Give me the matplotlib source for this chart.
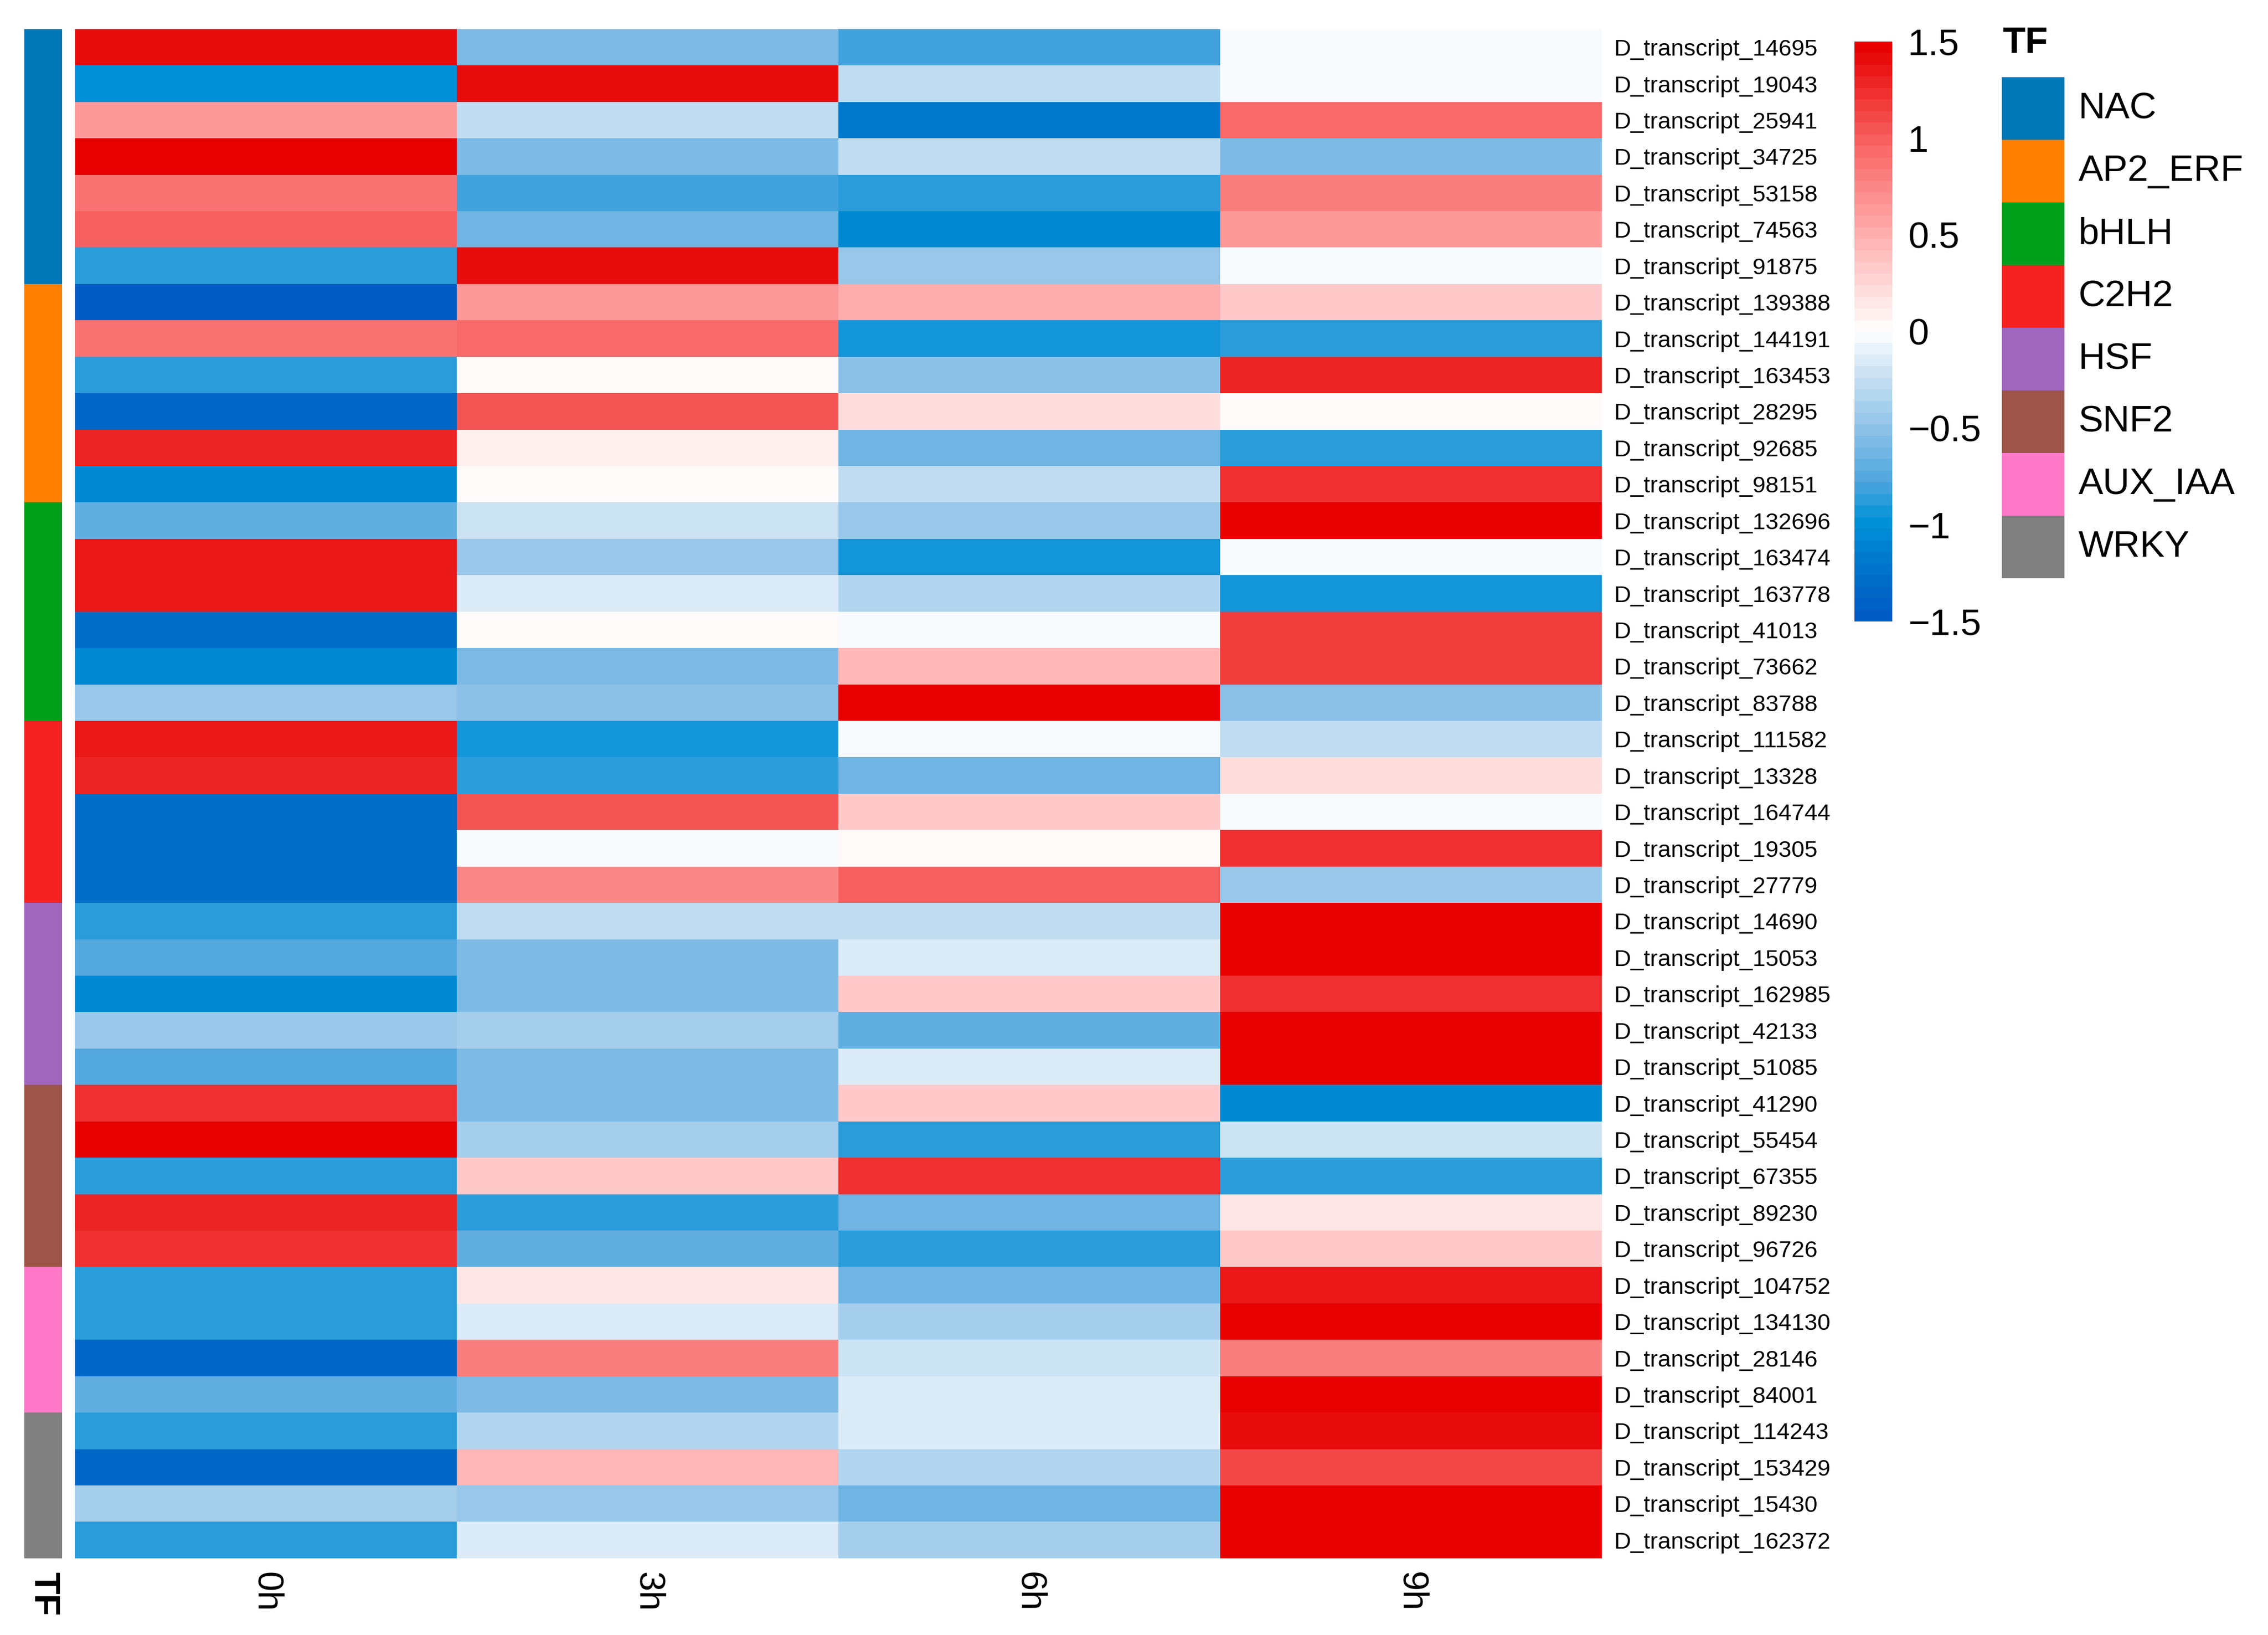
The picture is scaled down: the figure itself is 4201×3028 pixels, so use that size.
import matplotlib

matplotlib.use("Agg")
import matplotlib.pyplot as plt
import numpy as np
from matplotlib.colors import LinearSegmentedColormap, ListedColormap

plt.rcParams["font.family"] = ["Liberation Sans", "DejaVu Sans"]

# row labels (top to bottom)
transcripts = [
    "D_transcript_14695", "D_transcript_19043", "D_transcript_25941", "D_transcript_34725",
    "D_transcript_53158", "D_transcript_74563", "D_transcript_91875",
    "D_transcript_139388", "D_transcript_144191", "D_transcript_163453", "D_transcript_28295",
    "D_transcript_92685", "D_transcript_98151",
    "D_transcript_132696", "D_transcript_163474", "D_transcript_163778", "D_transcript_41013",
    "D_transcript_73662", "D_transcript_83788",
    "D_transcript_111582", "D_transcript_13328", "D_transcript_164744", "D_transcript_19305",
    "D_transcript_27779",
    "D_transcript_14690", "D_transcript_15053", "D_transcript_162985", "D_transcript_42133",
    "D_transcript_51085",
    "D_transcript_41290", "D_transcript_55454", "D_transcript_67355", "D_transcript_89230",
    "D_transcript_96726",
    "D_transcript_104752", "D_transcript_134130", "D_transcript_28146", "D_transcript_84001",
    "D_transcript_114243", "D_transcript_153429", "D_transcript_15430", "D_transcript_162372",
]

time_points = ["0h", "3h", "6h", "9h"]

tf_families = ["NAC", "AP2_ERF", "bHLH", "C2H2", "HSF", "SNF2", "AUX_IAA", "WRKY"]
tf_counts = [7, 6, 6, 5, 5, 5, 4, 4]
tf_colors = ["#0077B6", "#FF7F00", "#00A01C", "#F52222",
             "#A066BE", "#9C5548", "#FF78C8", "#808080"]

# z-scores per time point
v_0h = [1.4, -1.0, 0.6, 1.5, 0.85, 1.0, -0.85,
        -1.45, 0.85, -0.85, -1.35, 1.3, -1.05,
        -0.7, 1.35, 1.35, -1.3, -1.05, -0.45,
        1.35, 1.3, -1.3, -1.3, -1.3,
        -0.85, -0.75, -1.05, -0.45, -0.75,
        1.25, 1.45, -0.85, 1.3, 1.25,
        -0.85, -0.85, -1.35, -0.7,
        -0.85, -1.35, -0.4, -0.85]
v_3h = [-0.55, 1.4, -0.3, -0.55, -0.8, -0.65, 1.4,
        0.65, 0.95, 0.05, 1.05, 0.1, 0.05,
        -0.2, -0.45, -0.15, 0.05, -0.55, -0.5,
        -0.95, -0.9, 1.05, -0.02, 0.75,
        -0.3, -0.6, -0.6, -0.4, -0.6,
        -0.55, -0.4, 0.3, -0.9, -0.7,
        0.15, -0.15, 0.8, -0.55,
        -0.35, 0.45, -0.45, -0.15]
v_6h = [-0.8, -0.25, -1.2, -0.3, -0.9, -1.05, -0.45,
        0.5, -0.95, -0.5, 0.2, -0.65, -0.3,
        -0.45, -0.95, -0.35, -0.05, 0.45, 1.45,
        -0.05, -0.65, 0.35, 0.02, 1.0,
        -0.3, -0.15, 0.35, -0.7, -0.15,
        0.35, -0.85, 1.2, -0.65, -0.9,
        -0.65, -0.4, -0.2, -0.15,
        -0.15, -0.35, -0.65, -0.4]
v_9h = [-0.05, -0.05, 0.9, -0.55, 0.8, 0.6, -0.05,
        0.3, -0.85, 1.3, 0.05, -0.9, 1.25,
        1.45, -0.05, -0.95, 1.15, 1.15, -0.5,
        -0.3, 0.2, -0.05, 1.2, -0.45,
        1.5, 1.45, 1.2, 1.45, 1.45,
        -1.05, -0.2, -0.85, 0.15, 0.3,
        1.35, 1.45, 0.8, 1.45,
        1.4, 1.1, 1.45, 1.45]

W, H, DPI = 4201, 3028, 300
VMIN, VMAX = -1.5, 1.5


def fig_box(x0, y0, x1, y1):
    """Pixel box (top-left origin) -> figure fraction rect."""
    return [x0 / W, 1 - y1 / H, (x1 - x0) / W, (y1 - y0) / H]


def stop(value):
    return (value - VMIN) / (VMAX - VMIN)


matrix = np.column_stack([v_0h, v_3h, v_6h, v_9h])
family_index = np.repeat(np.arange(len(tf_families)), tf_counts)

# blue - white - red palette, 50 steps like the reference bar
cmap = LinearSegmentedColormap.from_list(
    "bwr_custom",
    [(stop(-1.5), "#005BC4"), (stop(-1.2), "#0079CC"), (stop(-1.0), "#0092D8"),
     (stop(-0.8), "#4CA5DD"), (stop(-0.5), "#90C3E8"), (stop(-0.2), "#D0E5F5"),
     (stop(0.0), "#FFFFFF"), (stop(0.5), "#FFB0B0"), (stop(1.0), "#F86262"),
     (stop(1.5), "#E60000")],
    N=50,
)

fig = plt.figure(figsize=(W / DPI, H / DPI), dpi=DPI)

# main heatmap
ax = fig.add_axes(fig_box(139, 54, 2967, 2886))
im = ax.imshow(matrix, cmap=cmap, vmin=VMIN, vmax=VMAX, aspect="auto",
               interpolation="nearest")
ax.set_yticks(np.arange(len(transcripts)))
ax.set_yticklabels(transcripts, fontsize=10.4)
ax.yaxis.tick_right()
ax.set_xticks(np.arange(len(time_points)))
ax.set_xticklabels(time_points, fontsize=16, rotation=270)
ax.tick_params(axis="both", length=0)
ax.tick_params(axis="y", pad=5.5)
ax.tick_params(axis="x", pad=6)
for spine in ax.spines.values():
    spine.set_visible(False)

# row annotation bar
ax_ann = fig.add_axes(fig_box(45, 54, 115, 2886))
ax_ann.imshow(family_index[:, None], cmap=ListedColormap(tf_colors), aspect="auto",
              interpolation="nearest", vmin=-0.5, vmax=len(tf_families) - 0.5)
ax_ann.set_yticks([])
ax_ann.set_xticks([0])
ax_ann.set_xticklabels(["TF"], fontsize=16, fontweight="bold", rotation=270)
ax_ann.tick_params(axis="x", length=0, pad=6)
for spine in ax_ann.spines.values():
    spine.set_visible(False)

# colour bar
cax = fig.add_axes(fig_box(3435, 77, 3505, 1151))
cbar = fig.colorbar(im, cax=cax, ticks=[-1.5, -1, -0.5, 0, 0.5, 1, 1.5])
cbar.ax.set_yticklabels(["\u22121.5", "\u22121", "\u22120.5", "0", "0.5", "1", "1.5"],
                        fontsize=16.5)
cbar.ax.tick_params(length=0, pad=7)
cbar.outline.set_visible(False)

# TF legend
ax_leg = fig.add_axes(fig_box(3708, 143, 3824, 1071))
ax_leg.imshow(np.arange(len(tf_families))[:, None], cmap=ListedColormap(tf_colors),
              aspect="auto", interpolation="nearest")
ax_leg.set_xticks([])
ax_leg.set_yticks([])
for spine in ax_leg.spines.values():
    spine.set_visible(False)
for i, name in enumerate(tf_families):
    ax_leg.text(1.22, i, name, transform=ax_leg.get_yaxis_transform(), fontsize=16.5,
                va="center", ha="left")
fig.text(3709 / W, 1 - 80 / H, "TF", fontsize=16.5, fontweight="bold",
         va="center", ha="left")

fig.savefig("out.png", dpi=DPI)
